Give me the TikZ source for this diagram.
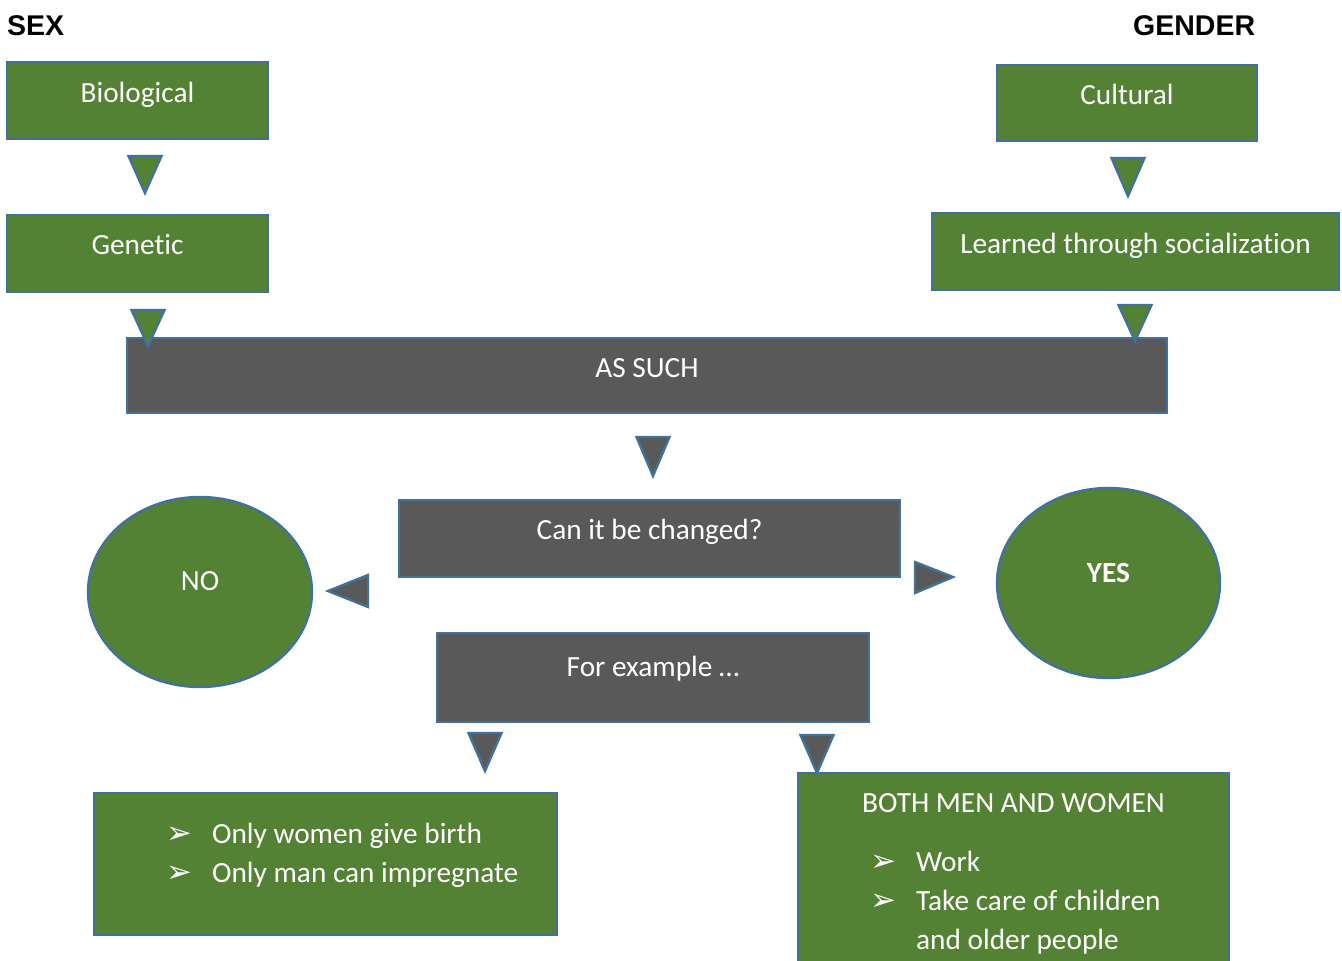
\documentclass[tikz,border=0pt]{standalone}
\usepackage{fontspec}
\setmainfont{Carlito}[Ligatures=NoCommon]
\newfontfamily\headfont{Liberation Sans}
\newfontfamily\dejavu{DejaVu Sans}
\usetikzlibrary{shapes.geometric}

\definecolor{leaf}{HTML}{548235}
\definecolor{slate}{HTML}{595959}
\definecolor{rim}{HTML}{41719C}
\newcommand{\bul}{\makebox[46pt][l]{\dejavu\fontsize{31}{31}\selectfont ➢}}

\begin{document}
\begin{tikzpicture}[x=1pt,y=-1pt,
  box/.style={rectangle,draw=rim,line width=2.4pt,inner sep=0pt},
  gbox/.style={box,fill=leaf},
  dbox/.style={box,fill=slate},
  gell/.style={ellipse,draw=rim,line width=2.4pt,fill=leaf,inner sep=0pt},
  txt/.style={text=white,font=\fontsize{29.3}{39}\selectfont,inner sep=0pt,anchor=base},
  head/.style={font=\headfont\bfseries\fontsize{28.5}{30}\selectfont,inner sep=0pt,anchor=base west},
  tri/.style={draw=rim,line width=2.4pt,line join=miter}]

  \useasboundingbox (0,0) rectangle (1342,961);

  % titles
  \node[head] (sex) at (7,35) {SEX};
  \node[head] (gender) at (1133,35) {GENDER};

  % left column
  \node[gbox,minimum width=261,minimum height=77] (bio) at (137.5,100.5) {};
  \node[txt] (biot) at (137.5,102) {Biological};
  \node[gbox,minimum width=261,minimum height=77] (gen) at (137.5,253.5) {};
  \node[txt] (gent) at (137.5,254) {Genetic};

  % right column
  \node[gbox,minimum width=260,minimum height=76] (cul) at (1127,103) {};
  \node[txt] (cult) at (1127,104) {Cultural};
  \node[gbox,minimum width=407,minimum height=77] (learn) at (1135.5,251.5) {};
  \node[txt] (learnt) at (1135.5,253) {Learned through socialization};

  % middle
  \node[dbox,minimum width=1040,minimum height=75] (such) at (647,375.5) {};
  \node[txt] (sucht) at (647,377) {AS SUCH};
  \node[dbox,minimum width=501,minimum height=77] (chg) at (649.5,538.5) {};
  \node[txt] (chgt) at (649.5,539) {Can it be changed?};
  \node[dbox,minimum width=432,minimum height=89] (forex) at (653,677.5) {};
  \node[txt] (forext) at (653,676) {For example \dots};

  \node[gell,minimum width=224,minimum height=190] (no) at (200,592) {};
  \node[txt] (not) at (200,590) {NO};
  \node[gell,minimum width=223,minimum height=190] (yes) at (1108.5,583) {};
  \node[txt,font=\bfseries\fontsize{29.3}{39}\selectfont] (yest) at (1108.5,582) {YES};

  % examples
  \node[gbox,minimum width=463,minimum height=142] (only) at (325.5,864) {};
  \node[txt,anchor=base west] (onlyt) at (166,843) {%
    \begin{tabular}[t]{@{}l@{}l@{}}
      \bul & Only women give birth\\
      \bul & Only man can impregnate
    \end{tabular}};
  \node[gbox,minimum width=431,minimum height=202] (both) at (1013.5,874) {};
  \node[txt] (botht) at (1013.5,812) {BOTH MEN AND WOMEN};
  \node[txt,anchor=base west] (botht2) at (870,871) {%
    \begin{tabular}[t]{@{}l@{}l@{}}
      \bul & Work\\
      \bul & Take care of children\\
           & and older people
    \end{tabular}};

  % triangles
  \foreach \c/\x/\t/\b in {leaf/145/156/193, leaf/148/310/346,
      leaf/1128/158/196, leaf/1135/305/341, slate/653/437/476,
      slate/485/733/771, slate/817/735/773}
    \draw[tri,fill=\c] (\x-16.5,\t) -- (\x+16.5,\t) -- (\x,\b) -- cycle;
  \draw[tri,fill=slate] (368,575) -- (368,607) -- (328,591) -- cycle;
  \draw[tri,fill=slate] (915,562) -- (915,593) -- (953,577) -- cycle;
\end{tikzpicture}
\end{document}
